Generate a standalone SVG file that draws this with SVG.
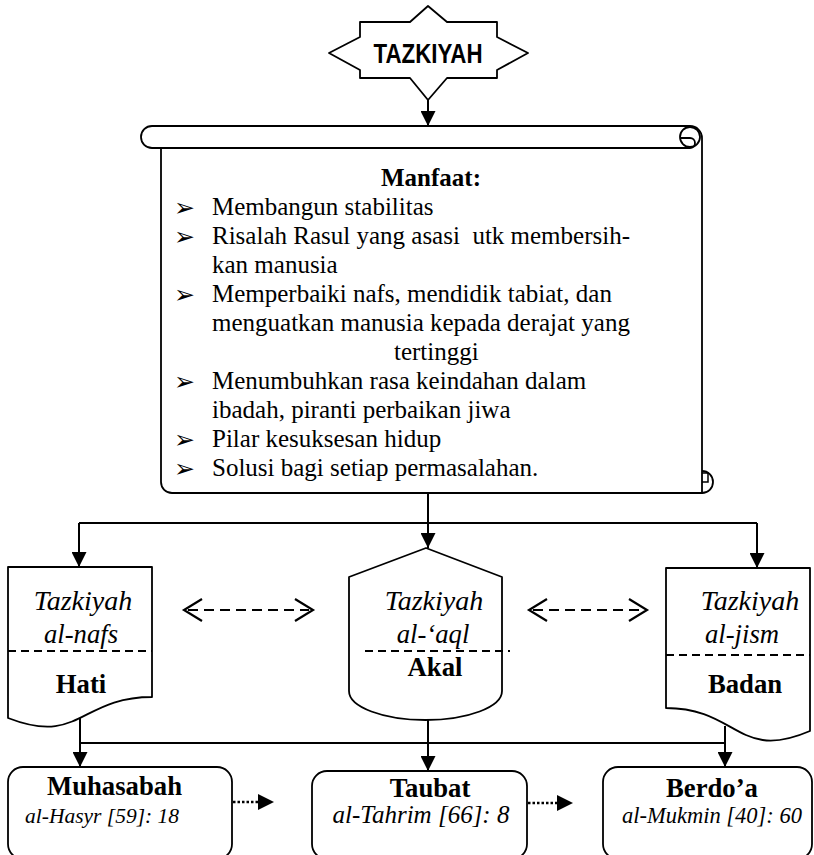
<svg xmlns="http://www.w3.org/2000/svg" width="814" height="855" viewBox="0 0 814 855">
<style>
.shape{fill:#fff;stroke:#000;stroke-width:1.8;stroke-linejoin:round}
.ln{fill:none;stroke:#000;stroke-width:2}
.dash{fill:none;stroke:#000;stroke-width:2;stroke-dasharray:10 6}
.dot{fill:none;stroke:#000;stroke-width:2.5;stroke-dasharray:2.5 2}
.chev{fill:none;stroke:#000;stroke-width:2.2}
.sep{fill:none;stroke:#000;stroke-width:1.8;stroke-dasharray:8 5}
.t{font-family:"Liberation Serif","Times New Roman",serif;fill:#000}
.body{font-size:25px}
.bul{font-family:"DejaVu Sans",sans-serif;font-size:25px}
.it{font-style:italic}
.b{font-weight:bold}
.big{font-size:26.7px}
.tz{font-size:28px}
.mid{text-anchor:middle}
</style>
<defs>
<marker id="ah" markerUnits="userSpaceOnUse" markerWidth="15" markerHeight="15" refX="15" refY="7.5" orient="auto">
<path d="M0,0 L15,7.5 L0,15 z" fill="#000"/>
</marker>
</defs>

<g id="tazkiyah">
<polygon class="shape" points="329,53 360,37 360,22 410,22 428,6 447,22 497,22 497,37 528,53 497,70 497,78 447,78 428,100 410,78 360,78 360,70"/>
<text class="b mid" x="428" y="63" font-family="Liberation Sans, Arial, sans-serif" font-size="28" textLength="109" lengthAdjust="spacingAndGlyphs">TAZKIYAH</text>
</g>

<g id="manfaat">
<path class="shape" d="M161,148 V482 A11,11 0 0 0 172,493 H702 V138 A12,12 0 0 0 690,126 H152 A11,11 0 0 0 152,148 Z"/>
<path class="ln" style="stroke-width:1.8" d="M152,148 H690"/>
<circle cx="690" cy="137" r="10" fill="#fff" stroke="#000" stroke-width="1.8"/>
<path class="ln" style="stroke-width:1.8" d="M680,138 H690 A5,5 0 0 1 690,148"/>
<path class="ln" style="stroke-width:1.8" d="M702,471 A11,11 0 0 1 702,493"/>
<path class="ln" style="stroke-width:1.5" d="M702,473 H708 V482 H702"/>
<text class="t body b mid" x="431" y="186">Manfaat:</text>
<g class="t body">
<text class="bul" x="174" y="216">➢</text>
<text x="212" y="215">Membangun stabilitas</text>
<text class="bul" x="174" y="245">➢</text>
<text x="212" y="244" xml:space="preserve">Risalah Rasul yang asasi  utk membersih-</text>
<text x="212" y="273">kan manusia</text>
<text class="bul" x="174" y="303">➢</text>
<text x="212" y="302">Memperbaiki nafs, mendidik tabiat, dan</text>
<text x="212" y="331">menguatkan manusia kepada derajat yang</text>
<text x="394" y="360">tertinggi</text>
<text class="bul" x="174" y="390">➢</text>
<text x="212" y="389">Menumbuhkan rasa keindahan dalam</text>
<text x="212" y="418">ibadah, piranti perbaikan jiwa</text>
<text class="bul" x="174" y="448">➢</text>
<text x="212" y="447">Pilar kesuksesan hidup</text>
<text class="bul" x="174" y="477">➢</text>
<text x="212" y="476">Solusi bagi setiap permasalahan.</text>
</g>
</g>

<g id="hati">
<path class="shape" d="M8,567 H152 V697 C80,697 80,746 8,718 Z"/>
<path class="sep" d="M8,651 H152"/>
<text class="t tz it mid" x="83" y="610">Tazkiyah</text>
<text class="t big it mid" x="81" y="643">al-nafs</text>
<text class="t big b mid" x="81" y="693">Hati</text>
</g>

<g id="akal">
<path class="shape" d="M426,548 L502,577 V691 A76.5,29 0 0 1 349,691 V577 Z"/>
<path class="sep" d="M365,651 H510"/>
<text class="t tz it mid" x="434" y="610">Tazkiyah</text>
<text class="t big it mid" x="433" y="643">al-‘aql</text>
<text class="t big b mid" x="435" y="676">Akal</text>
</g>

<g id="badan">
<path class="shape" d="M666,568 H810 V731 C738,762 738,708 666,708 Z"/>
<path class="sep" d="M666,655 H810"/>
<text class="t tz it mid" x="750" y="610">Tazkiyah</text>
<text class="t big it mid" x="742" y="643">al-jism</text>
<text class="t big b mid" x="745" y="693">Badan</text>
</g>

<g id="muhasabah">
<rect class="shape" x="8" y="767" width="224" height="92" rx="15"/>
<text class="t big b" x="47" y="795">Muhasabah</text>
<text class="t it" x="25" y="823" font-size="21.5">al-Hasyr [59]: 18</text>
</g>

<g id="taubat">
<rect class="shape" x="312" y="771" width="215" height="88" rx="15"/>
<text class="t big b mid" x="430" y="797">Taubat</text>
<text class="t it mid" x="421" y="823" font-size="25">al-Tahrim [66]: 8</text>
</g>

<g id="berdoa">
<rect class="shape" x="603" y="767" width="209" height="92" rx="15"/>
<text class="t big b mid" x="712" y="797">Berdo’a</text>
<text class="t it mid" x="712" y="823" font-size="22.5">al-Mukmin [40]: 60</text>
</g>

<g id="connectors">
<path class="ln" d="M428,100 V126" marker-end="url(#ah)"/>
<path class="ln" d="M428,493 V548" marker-end="url(#ah)"/>
<path class="ln" d="M79,523 H757"/>
<path class="ln" d="M79,523 V567" marker-end="url(#ah)"/>
<path class="ln" d="M757,523 V568" marker-end="url(#ah)"/>
<path class="dash" d="M188,610 H309"/>
<polyline class="chev" points="202,599 184,610 202,621"/>
<polyline class="chev" points="295,599 313,610 295,621"/>
<path class="dash" d="M533,610 H643"/>
<polyline class="chev" points="547,599 529,610 547,621"/>
<polyline class="chev" points="629,599 647,610 629,621"/>
<path class="ln" d="M80,718 V767" marker-end="url(#ah)"/>
<path class="ln" d="M428,720 V771" marker-end="url(#ah)"/>
<path class="ln" d="M725,726 V767" marker-end="url(#ah)"/>
<path class="ln" d="M80,743 H725"/>
<path class="dot" d="M233,802 H259"/>
<polygon points="258,794 274,802 258,810" fill="#000"/>
<path class="dot" d="M528,803 H558"/>
<polygon points="557,795 573,803 557,811" fill="#000"/>
</g>
</svg>
